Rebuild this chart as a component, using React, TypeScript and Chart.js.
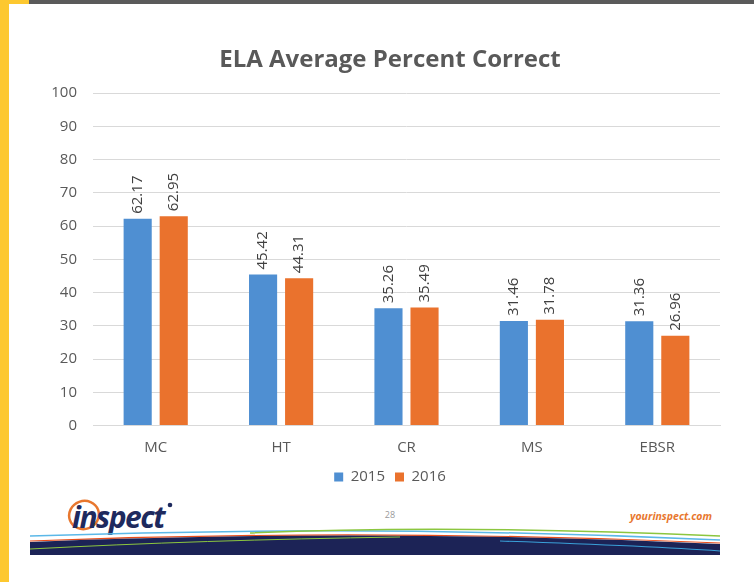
import React, { useEffect, useRef } from "react";
import { Chart, registerables } from "chart.js";

Chart.register(...registerables);

const categories = ["MC", "HT", "CR", "MS", "EBSR"];
const values2015 = [62.17, 45.42, 35.26, 31.46, 31.36];
const values2016 = [62.95, 44.31, 35.49, 31.78, 26.96];
const seriesNames = ["2015", "2016"];
const yTicks = [0, 10, 20, 30, 40, 50, 60, 70, 80, 90, 100];
const titleText = "ELA Average Percent Correct";

const FONT = "'Open Sans', 'DejaVu Sans', sans-serif";
const BLUE = "#4F8FD2";
const ORANGE = "#EA722D";
const GRAY = "#595959";

const valueLabels = {
  id: "valueLabels",
  afterDatasetsDraw(chart: any) {
    const ctx = chart.ctx;
    ctx.save();
    ctx.font = `15px ${FONT}`;
    ctx.fillStyle = "#404040";
    ctx.textAlign = "left";
    ctx.textBaseline = "middle";
    chart.data.datasets.forEach((ds: any, i: number) => {
      const meta = chart.getDatasetMeta(i);
      meta.data.forEach((bar: any, j: number) => {
        const v = ds.data[j];
        ctx.save();
        ctx.translate(bar.x, bar.y - 5);
        ctx.rotate(-Math.PI / 2);
        ctx.fillText(v.toFixed(2), 0, 0);
        ctx.restore();
      });
    });
    ctx.restore();
  },
};

export default function App() {
  const ref = useRef<HTMLCanvasElement | null>(null);
  useEffect(() => {
    if (!ref.current) return;
    const chart = new Chart(ref.current, {
      type: "bar",
      data: {
        labels: categories,
        datasets: [
          { label: seriesNames[0], data: values2015, backgroundColor: BLUE, barPercentage: 0.78, categoryPercentage: 0.575 },
          { label: seriesNames[1], data: values2016, backgroundColor: ORANGE, barPercentage: 0.78, categoryPercentage: 0.575 },
        ],
      },
      options: {
        responsive: false,
        animation: false,
        layout: { padding: { left: 60, right: 34, top: 45.6, bottom: 87.5 } },
        plugins: {
          title: {
            display: true,
            text: titleText,
            color: GRAY,
            font: { family: FONT, size: 24, weight: "bold" },
            padding: { top: 0, bottom: 18.6 },
          },
          legend: {
            display: true,
            position: "bottom",
            labels: {
              color: GRAY,
              font: { family: FONT, size: 15 },
              boxWidth: 9,
              boxHeight: 9,
              padding: 10,
            },
          },
          tooltip: { enabled: false },
        },
        scales: {
          x: {
            afterFit(scale: any) {
              scale.height = 34;
            },
            grid: { display: false, drawTicks: false },
            border: { display: true, color: "#d9d9d9" },
            ticks: { color: GRAY, font: { family: FONT, size: 15 }, padding: 13 },
          },
          y: {
            min: 0,
            max: 100,
            afterFit(scale: any) {
              scale.width = 33;
              scale._computeLabelArea = () => undefined;
            },
            afterBuildTicks(scale: any) {
              scale.ticks = yTicks.map((v) => ({ value: v }));
            },
            grid: { color: "#d9d9d9", drawTicks: false },
            border: { display: false },
            ticks: { color: GRAY, font: { family: FONT, size: 15 }, padding: 16 },
          },
        },
      },
      plugins: [valueLabels],
    } as any);
    return () => chart.destroy();
  }, []);

  return (
    <div style={{ position: "absolute", left: 0, top: 0, width: 754, height: 582, background: "#fff", overflow: "hidden" }}>
      <div style={{ position: "absolute", left: 0, top: 0, width: 9, height: 582, background: "#FDC82F" }} />
      <div style={{ position: "absolute", left: 0, top: 0, width: 29, height: 4, background: "#FDC82F" }} />
      <div style={{ position: "absolute", left: 29, top: 0, width: 725, height: 4, background: "#5a5a5a" }} />
      <svg width={754} height={582} style={{ position: "absolute", left: 0, top: 0 }}>
        <ellipse cx={84} cy={515} rx={15} ry={14} fill="none" stroke="#E8772E" strokeWidth={2.5} transform="rotate(-20 84 515)" />
        <text x={72} y={528} fill="#1E2A5E" fontFamily={FONT} fontStyle="italic" fontWeight="bold" fontSize={30} letterSpacing={-1.5}>inspect</text>
        <circle cx={170} cy={505} r={2.3} fill="#1E2A5E" />
        <text x={390} y={518} fill="#9a9a9a" fontFamily={FONT} fontSize={9} textAnchor="middle">28</text>
        <text x={712} y={520} fill="#E8772E" fontFamily={FONT} fontStyle="italic" fontWeight="bold" fontSize={10.5} textAnchor="end">yourinspect.com</text>
        <path d="M30 536 Q 370 524 720 540" stroke="#5bb8e8" strokeWidth={1.5} fill="none" />
        <path d="M250 533 Q 450 524 720 536" stroke="#8cc63f" strokeWidth={1.5} fill="none" />
        <path d="M30 541 Q 370 528 720 543" stroke="#e94e1b" strokeWidth={1.2} fill="none" />
        <path d="M30 544 Q 370 532 720 547" stroke="#f2c230" strokeWidth={1.2} fill="none" />
        <path d="M30 542 Q 370 528 720 544 L 720 555 L 30 555 Z" fill="#1C2356" />
        <path d="M30 549 Q 200 540 400 537" stroke="#8cc63f" strokeWidth={1} fill="none" />
        <path d="M500 541 Q 650 546 720 551" stroke="#3aa0d8" strokeWidth={1.2} fill="none" />
      </svg>
      <canvas ref={ref} width={754} height={582} style={{ position: "absolute", left: 0, top: 0, width: 754, height: 582 }} />
    </div>
  );
}
